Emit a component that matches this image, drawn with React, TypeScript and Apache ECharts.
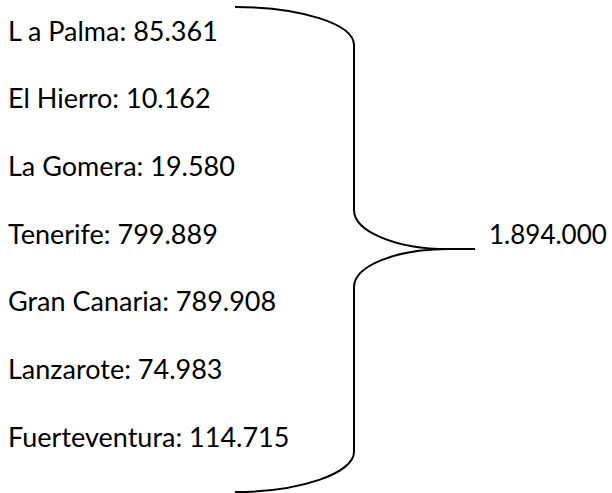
import React, { useEffect, useRef } from "react";
import * as echarts from "echarts";

const islands = [
  "L a Palma",
  "El Hierro",
  "La Gomera",
  "Tenerife",
  "Gran Canaria",
  "Lanzarote",
  "Fuerteventura",
];
const populations = ["85.361", "10.162", "19.580", "799.889", "789.908", "74.983", "114.715"];
const total = "1.894.000";

const FONT = "Lato, 'Open Sans', sans-serif";

const bracePath =
  "M235 7 C300.7 7 354 24 354 45 L354 210 C354 231.5 396 249 448 249 " +
  "C396 249 354 266 354 287 L354 452 C354 473 300.7 492 235 492 M448 249 L475 249";

let registered = false;

export default function App() {
  const ref = useRef<HTMLDivElement>(null);
  useEffect(() => {
    if (!ref.current) return;
    if (!registered) {
      echarts.graphic.registerShape("brace", echarts.graphic.extendPath(bracePath, {}) as any);
      registered = true;
    }
    const chart = echarts.init(ref.current, null, { renderer: "svg" });
    const texts = islands.map((name, i) => ({
      type: "text",
      x: 8,
      y: 30 + i * 67.7,
      style: {
        text: `${name}: ${populations[i]}`,
        font: `27px ${FONT}`,
        fill: "#000",
        textAlign: "left",
        textVerticalAlign: "middle",
      },
    }));
    chart.setOption({
      animation: false,
      backgroundColor: "#fff",
      graphic: [
        {
          type: "brace",
          x: 0,
          y: 0,
          scaleX: 1,
          scaleY: 1,
          style: { fill: "none", stroke: "#000", lineWidth: 2 },
        },
        ...texts,
        {
          type: "text",
          x: 489,
          y: 234,
          style: {
            text: total,
            font: `26px ${FONT}`,
            fill: "#000",
            textAlign: "left",
            textVerticalAlign: "middle",
          },
        },
      ],
    });
    return () => chart.dispose();
  }, []);
  return (
    <div
      ref={ref}
      style={{ position: "fixed", left: 0, top: 0, width: 612, height: 493, background: "#fff" }}
    />
  );
}
